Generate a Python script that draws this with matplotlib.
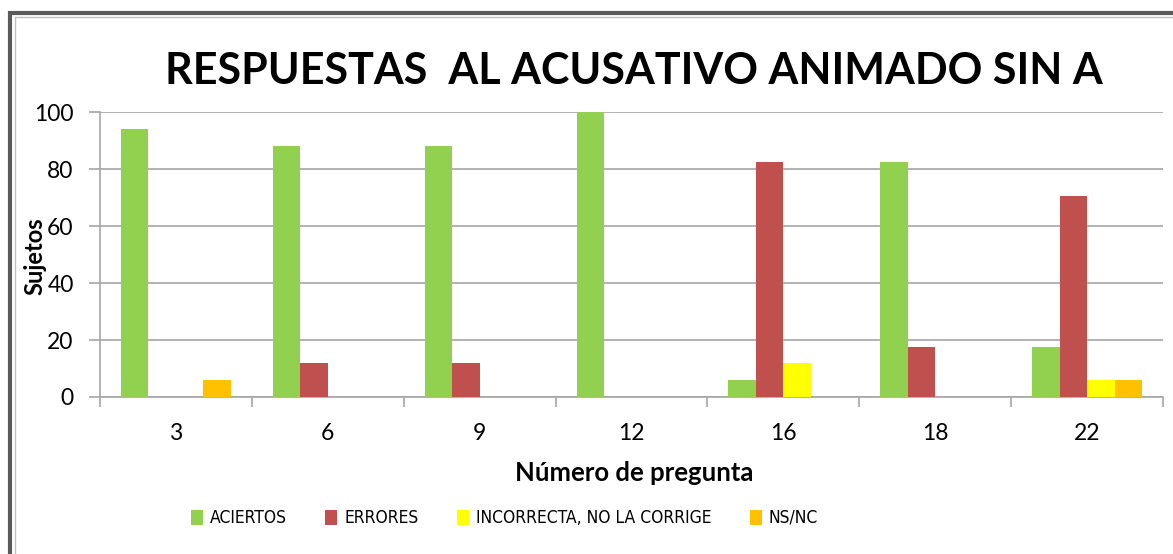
import matplotlib
matplotlib.use("Agg")
from matplotlib import pyplot as plt
from matplotlib import font_manager
from matplotlib.patches import Rectangle
import numpy as np

plt.rcParams['font.family'] = ['Lato', 'DejaVu Sans']

preguntas = ['3', '6', '9', '12', '16', '18', '22']
aciertos = [94.1, 88.2, 88.2, 100, 5.9, 82.4, 17.6]
errores = [0, 11.8, 11.8, 0, 82.4, 17.6, 70.6]
incorrecta = [0, 0, 0, 0, 11.8, 0, 5.9]
nsnc = [5.9, 0, 0, 0, 0, 0, 5.9]

series = [
    ('ACIERTOS', aciertos, '#92D050'),
    ('ERRORES', errores, '#C0504D'),
    ('INCORRECTA, NO LA CORRIGE', incorrecta, '#FFFF00'),
    ('NS/NC', nsnc, '#FFC000'),
]

# the legend in the original uses a narrow face; use a condensed one if there is one
cond = font_manager.FontProperties(family='DejaVu Sans', stretch='condensed')
if 'condensed' in font_manager.findfont(cond).lower():
    legend_prop = {'family': 'DejaVu Sans', 'stretch': 'condensed', 'size': 12.5}
else:
    legend_prop = {'family': 'Lato', 'size': 12}

fig = plt.figure(figsize=(11.73, 5.54), dpi=100)
ax = fig.add_axes([0.0853, 0.2834, 0.9062, 0.5144])

x = np.arange(len(preguntas))
w = 0.181
for i, (name, vals, col) in enumerate(series):
    ax.bar(x + (i - 1.5) * w, vals, w, color=col, label=name, zorder=3)

ax.set_xlim(-0.5, len(preguntas) - 0.5)
ax.set_ylim(0, 100)
ax.set_yticks(range(0, 101, 20))
ax.grid(axis='y', color='#A6A6A6', linewidth=1.2, zorder=0)
ax.tick_params(axis='y', length=8, width=1.2, color='#A6A6A6', pad=11, labelsize=16.5)

ax.set_xticks(np.arange(len(preguntas) + 1) - 0.5)
ax.set_xticklabels([])
ax.tick_params(axis='x', which='major', length=7, width=1.2, color='#A6A6A6')
ax.set_xticks(x, minor=True)
ax.set_xticklabels(preguntas, minor=True)
ax.tick_params(axis='x', which='minor', length=0, pad=19, labelsize=16.5)

for s in ['top', 'right']:
    ax.spines[s].set_visible(False)
for s in ['left', 'bottom']:
    ax.spines[s].set_color('#A6A6A6')
    ax.spines[s].set_linewidth(1.2)

fig.text(0.54, 0.872, 'RESPUESTAS  AL ACUSATIVO ANIMADO SIN A', ha='center', va='center',
         fontsize=31, fontweight='bold')
fig.text(0.0295, 0.538, 'Sujetos', rotation=90, ha='center', va='center',
         fontsize=17, fontweight='bold')
fig.text(0.541, 0.147, 'Número de pregunta', ha='center', va='center',
         fontsize=18.5, fontweight='bold')

fig.legend(loc='center', bbox_to_anchor=(0.43, 0.065), ncol=4, frameon=False,
           prop=legend_prop, handlelength=0.7, handleheight=0.95, handletextpad=0.4,
           columnspacing=2.2)

# outer double border of the chart area
fig.patches.append(Rectangle((10 / 1173, -0.1), 1.2, (554 - 13) / 554 + 0.1,
                             transform=fig.transFigure, fill=False,
                             edgecolor='#5A5A5A', linewidth=3))
fig.patches.append(Rectangle((15 / 1173, -0.1), 1.2, (554 - 17) / 554 + 0.1,
                             transform=fig.transFigure, fill=False,
                             edgecolor='#BFBFBF', linewidth=1))

fig.savefig('out.png', dpi=100)
